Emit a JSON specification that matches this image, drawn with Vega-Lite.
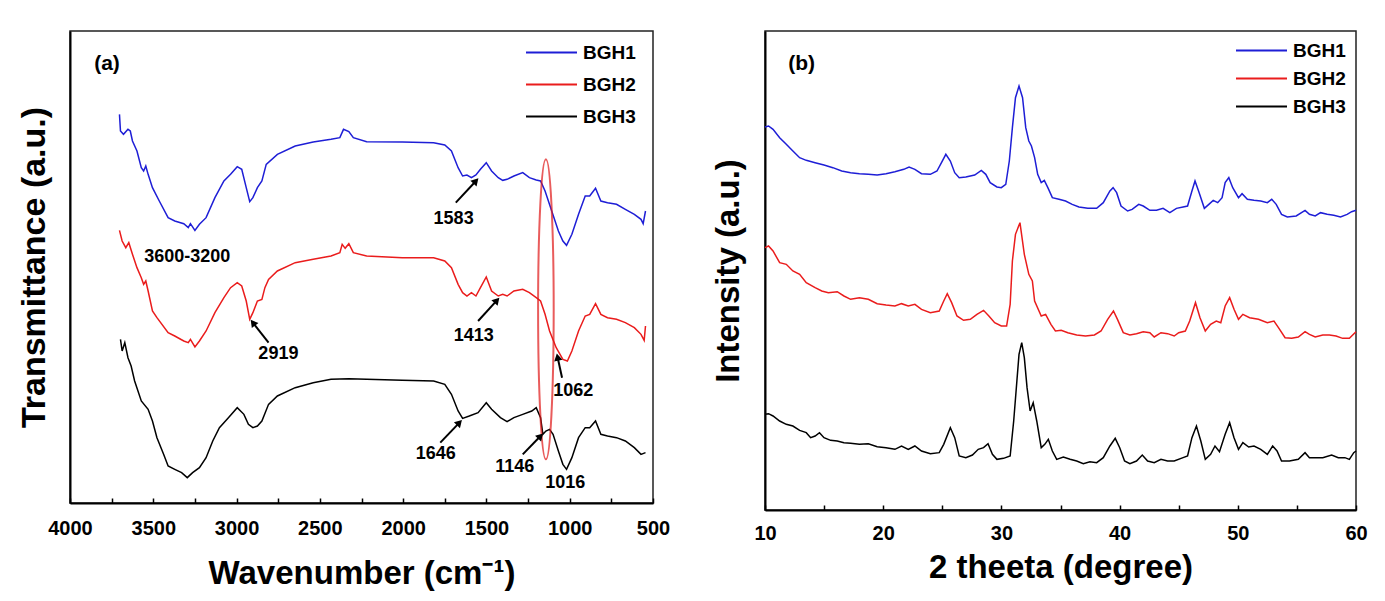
{
"$schema": "https://vega.github.io/schema/vega-lite/v6.json",
"background": "white",
"padding": {"left": 16, "top": 30, "right": 20, "bottom": 5},
"bounds": "flush",
"spacing": 112,
"config": {
  "font": "Liberation Sans",
  "view": {"stroke": "#222222", "strokeWidth": 1.5},
  "axis": {"domainColor": "black", "domainWidth": 2, "tickColor": "black", "tickWidth": 1.5, "grid": false, "labelFont": "Liberation Sans", "labelFontWeight": "bold", "labelFontSize": 20, "labelColor": "black", "titleFont": "Liberation Sans", "titleFontWeight": "bold", "titleFontSize": 33, "titleColor": "black"},
  "legend": {"labelFont": "Liberation Sans", "labelFontWeight": "bold", "labelFontSize": 19, "labelColor": "black", "symbolType": "M-3,0L3,0", "symbolSize": 289, "symbolStrokeWidth": 2, "padding": 0, "labelOffset": 22}
},
"datasets": {
"ftir": [
{"w":3703,"t":1166,"s":"BGH1"},{"w":3697,"t":1116,"s":"BGH1"},{"w":3679,"t":1106,"s":"BGH1"},{"w":3652,"t":1121,"s":"BGH1"},{"w":3638,"t":1116,"s":"BGH1"},{"w":3625,"t":1086,"s":"BGH1"},{"w":3598,"t":1056,"s":"BGH1"},{"w":3572,"t":1006,"s":"BGH1"},{"w":3558,"t":996,"s":"BGH1"},{"w":3545,"t":1011,"s":"BGH1"},{"w":3531,"t":986,"s":"BGH1"},{"w":3505,"t":946,"s":"BGH1"},{"w":3464,"t":906,"s":"BGH1"},{"w":3411,"t":856,"s":"BGH1"},{"w":3371,"t":846,"s":"BGH1"},{"w":3317,"t":838,"s":"BGH1"},{"w":3290,"t":826,"s":"BGH1"},{"w":3277,"t":838,"s":"BGH1"},{"w":3250,"t":818,"s":"BGH1"},{"w":3223,"t":836,"s":"BGH1"},{"w":3183,"t":856,"s":"BGH1"},{"w":3130,"t":916,"s":"BGH1"},{"w":3076,"t":966,"s":"BGH1"},{"w":3036,"t":986,"s":"BGH1"},{"w":2996,"t":1009,"s":"BGH1"},{"w":2969,"t":1001,"s":"BGH1"},{"w":2942,"t":946,"s":"BGH1"},{"w":2921,"t":904,"s":"BGH1"},{"w":2902,"t":916,"s":"BGH1"},{"w":2875,"t":946,"s":"BGH1"},{"w":2848,"t":966,"s":"BGH1"},{"w":2822,"t":1016,"s":"BGH1"},{"w":2755,"t":1046,"s":"BGH1"},{"w":2648,"t":1071,"s":"BGH1"},{"w":2540,"t":1083,"s":"BGH1"},{"w":2433,"t":1091,"s":"BGH1"},{"w":2380,"t":1096,"s":"BGH1"},{"w":2358,"t":1121,"s":"BGH1"},{"w":2326,"t":1114,"s":"BGH1"},{"w":2299,"t":1096,"s":"BGH1"},{"w":2219,"t":1084,"s":"BGH1"},{"w":2005,"t":1083,"s":"BGH1"},{"w":1817,"t":1081,"s":"BGH1"},{"w":1750,"t":1074,"s":"BGH1"},{"w":1710,"t":1056,"s":"BGH1"},{"w":1670,"t":1006,"s":"BGH1"},{"w":1643,"t":981,"s":"BGH1"},{"w":1617,"t":984,"s":"BGH1"},{"w":1590,"t":976,"s":"BGH1"},{"w":1563,"t":984,"s":"BGH1"},{"w":1536,"t":1001,"s":"BGH1"},{"w":1501,"t":1021,"s":"BGH1"},{"w":1469,"t":996,"s":"BGH1"},{"w":1429,"t":976,"s":"BGH1"},{"w":1402,"t":968,"s":"BGH1"},{"w":1376,"t":971,"s":"BGH1"},{"w":1335,"t":981,"s":"BGH1"},{"w":1282,"t":991,"s":"BGH1"},{"w":1242,"t":976,"s":"BGH1"},{"w":1201,"t":969,"s":"BGH1"},{"w":1175,"t":966,"s":"BGH1"},{"w":1148,"t":936,"s":"BGH1"},{"w":1108,"t":876,"s":"BGH1"},{"w":1068,"t":816,"s":"BGH1"},{"w":1041,"t":786,"s":"BGH1"},{"w":1019,"t":773,"s":"BGH1"},{"w":987,"t":806,"s":"BGH1"},{"w":947,"t":866,"s":"BGH1"},{"w":907,"t":921,"s":"BGH1"},{"w":880,"t":921,"s":"BGH1"},{"w":845,"t":944,"s":"BGH1"},{"w":813,"t":906,"s":"BGH1"},{"w":773,"t":901,"s":"BGH1"},{"w":719,"t":896,"s":"BGH1"},{"w":666,"t":881,"s":"BGH1"},{"w":612,"t":866,"s":"BGH1"},{"w":572,"t":851,"s":"BGH1"},{"w":559,"t":838,"s":"BGH1"},{"w":545,"t":876,"s":"BGH1"},
{"w":3703,"t":818,"s":"BGH2"},{"w":3687,"t":786,"s":"BGH2"},{"w":3665,"t":766,"s":"BGH2"},{"w":3647,"t":781,"s":"BGH2"},{"w":3625,"t":746,"s":"BGH2"},{"w":3598,"t":706,"s":"BGH2"},{"w":3572,"t":676,"s":"BGH2"},{"w":3558,"t":656,"s":"BGH2"},{"w":3545,"t":666,"s":"BGH2"},{"w":3531,"t":636,"s":"BGH2"},{"w":3505,"t":576,"s":"BGH2"},{"w":3478,"t":556,"s":"BGH2"},{"w":3411,"t":511,"s":"BGH2"},{"w":3371,"t":501,"s":"BGH2"},{"w":3317,"t":486,"s":"BGH2"},{"w":3290,"t":481,"s":"BGH2"},{"w":3277,"t":491,"s":"BGH2"},{"w":3250,"t":468,"s":"BGH2"},{"w":3223,"t":486,"s":"BGH2"},{"w":3183,"t":516,"s":"BGH2"},{"w":3130,"t":571,"s":"BGH2"},{"w":3076,"t":616,"s":"BGH2"},{"w":3036,"t":646,"s":"BGH2"},{"w":2996,"t":661,"s":"BGH2"},{"w":2969,"t":651,"s":"BGH2"},{"w":2942,"t":606,"s":"BGH2"},{"w":2921,"t":551,"s":"BGH2"},{"w":2902,"t":571,"s":"BGH2"},{"w":2875,"t":606,"s":"BGH2"},{"w":2848,"t":611,"s":"BGH2"},{"w":2830,"t":646,"s":"BGH2"},{"w":2808,"t":671,"s":"BGH2"},{"w":2755,"t":696,"s":"BGH2"},{"w":2648,"t":721,"s":"BGH2"},{"w":2540,"t":731,"s":"BGH2"},{"w":2433,"t":741,"s":"BGH2"},{"w":2380,"t":751,"s":"BGH2"},{"w":2366,"t":776,"s":"BGH2"},{"w":2348,"t":764,"s":"BGH2"},{"w":2326,"t":778,"s":"BGH2"},{"w":2299,"t":751,"s":"BGH2"},{"w":2219,"t":741,"s":"BGH2"},{"w":2005,"t":736,"s":"BGH2"},{"w":1817,"t":736,"s":"BGH2"},{"w":1750,"t":726,"s":"BGH2"},{"w":1710,"t":706,"s":"BGH2"},{"w":1670,"t":656,"s":"BGH2"},{"w":1643,"t":631,"s":"BGH2"},{"w":1617,"t":621,"s":"BGH2"},{"w":1590,"t":631,"s":"BGH2"},{"w":1563,"t":621,"s":"BGH2"},{"w":1536,"t":646,"s":"BGH2"},{"w":1501,"t":678,"s":"BGH2"},{"w":1469,"t":636,"s":"BGH2"},{"w":1429,"t":621,"s":"BGH2"},{"w":1402,"t":626,"s":"BGH2"},{"w":1376,"t":621,"s":"BGH2"},{"w":1335,"t":636,"s":"BGH2"},{"w":1282,"t":641,"s":"BGH2"},{"w":1242,"t":631,"s":"BGH2"},{"w":1201,"t":616,"s":"BGH2"},{"w":1175,"t":606,"s":"BGH2"},{"w":1148,"t":566,"s":"BGH2"},{"w":1121,"t":516,"s":"BGH2"},{"w":1081,"t":466,"s":"BGH2"},{"w":1041,"t":431,"s":"BGH2"},{"w":1014,"t":426,"s":"BGH2"},{"w":987,"t":456,"s":"BGH2"},{"w":947,"t":516,"s":"BGH2"},{"w":907,"t":561,"s":"BGH2"},{"w":880,"t":566,"s":"BGH2"},{"w":845,"t":598,"s":"BGH2"},{"w":813,"t":566,"s":"BGH2"},{"w":773,"t":556,"s":"BGH2"},{"w":719,"t":551,"s":"BGH2"},{"w":666,"t":541,"s":"BGH2"},{"w":612,"t":526,"s":"BGH2"},{"w":572,"t":506,"s":"BGH2"},{"w":553,"t":488,"s":"BGH2"},{"w":545,"t":531,"s":"BGH2"},
{"w":3697,"t":491,"s":"BGH3"},{"w":3687,"t":456,"s":"BGH3"},{"w":3671,"t":481,"s":"BGH3"},{"w":3652,"t":436,"s":"BGH3"},{"w":3633,"t":411,"s":"BGH3"},{"w":3612,"t":366,"s":"BGH3"},{"w":3572,"t":306,"s":"BGH3"},{"w":3531,"t":281,"s":"BGH3"},{"w":3505,"t":246,"s":"BGH3"},{"w":3478,"t":196,"s":"BGH3"},{"w":3438,"t":146,"s":"BGH3"},{"w":3411,"t":111,"s":"BGH3"},{"w":3371,"t":101,"s":"BGH3"},{"w":3330,"t":91,"s":"BGH3"},{"w":3296,"t":76,"s":"BGH3"},{"w":3264,"t":91,"s":"BGH3"},{"w":3223,"t":106,"s":"BGH3"},{"w":3183,"t":136,"s":"BGH3"},{"w":3143,"t":186,"s":"BGH3"},{"w":3103,"t":226,"s":"BGH3"},{"w":3049,"t":256,"s":"BGH3"},{"w":2996,"t":286,"s":"BGH3"},{"w":2956,"t":266,"s":"BGH3"},{"w":2929,"t":236,"s":"BGH3"},{"w":2902,"t":226,"s":"BGH3"},{"w":2875,"t":231,"s":"BGH3"},{"w":2848,"t":246,"s":"BGH3"},{"w":2808,"t":296,"s":"BGH3"},{"w":2755,"t":321,"s":"BGH3"},{"w":2648,"t":346,"s":"BGH3"},{"w":2540,"t":361,"s":"BGH3"},{"w":2433,"t":371,"s":"BGH3"},{"w":2326,"t":373,"s":"BGH3"},{"w":2219,"t":371,"s":"BGH3"},{"w":2005,"t":368,"s":"BGH3"},{"w":1817,"t":366,"s":"BGH3"},{"w":1750,"t":356,"s":"BGH3"},{"w":1710,"t":326,"s":"BGH3"},{"w":1670,"t":276,"s":"BGH3"},{"w":1643,"t":254,"s":"BGH3"},{"w":1603,"t":261,"s":"BGH3"},{"w":1550,"t":271,"s":"BGH3"},{"w":1501,"t":301,"s":"BGH3"},{"w":1469,"t":281,"s":"BGH3"},{"w":1416,"t":256,"s":"BGH3"},{"w":1376,"t":244,"s":"BGH3"},{"w":1335,"t":256,"s":"BGH3"},{"w":1282,"t":266,"s":"BGH3"},{"w":1228,"t":276,"s":"BGH3"},{"w":1201,"t":286,"s":"BGH3"},{"w":1175,"t":256,"s":"BGH3"},{"w":1161,"t":206,"s":"BGH3"},{"w":1143,"t":216,"s":"BGH3"},{"w":1121,"t":221,"s":"BGH3"},{"w":1100,"t":206,"s":"BGH3"},{"w":1068,"t":156,"s":"BGH3"},{"w":1041,"t":116,"s":"BGH3"},{"w":1019,"t":101,"s":"BGH3"},{"w":987,"t":136,"s":"BGH3"},{"w":947,"t":196,"s":"BGH3"},{"w":907,"t":226,"s":"BGH3"},{"w":880,"t":226,"s":"BGH3"},{"w":845,"t":246,"s":"BGH3"},{"w":813,"t":206,"s":"BGH3"},{"w":773,"t":201,"s":"BGH3"},{"w":719,"t":196,"s":"BGH3"},{"w":666,"t":186,"s":"BGH3"},{"w":612,"t":166,"s":"BGH3"},{"w":572,"t":146,"s":"BGH3"},{"w":545,"t":151,"s":"BGH3"}
],
"xrd": [
{"d":10.00,"i":1149,"s":"BGH1"},{"d":10.30,"i":1152,"s":"BGH1"},{"d":10.68,"i":1142,"s":"BGH1"},{"d":11.24,"i":1117,"s":"BGH1"},{"d":11.80,"i":1097,"s":"BGH1"},{"d":12.36,"i":1077,"s":"BGH1"},{"d":12.93,"i":1057,"s":"BGH1"},{"d":13.49,"i":1049,"s":"BGH1"},{"d":14.24,"i":1042,"s":"BGH1"},{"d":14.99,"i":1035,"s":"BGH1"},{"d":15.74,"i":1027,"s":"BGH1"},{"d":16.49,"i":1017,"s":"BGH1"},{"d":17.24,"i":1012,"s":"BGH1"},{"d":17.99,"i":1009,"s":"BGH1"},{"d":18.74,"i":1007,"s":"BGH1"},{"d":19.49,"i":1005,"s":"BGH1"},{"d":20.24,"i":1009,"s":"BGH1"},{"d":20.99,"i":1015,"s":"BGH1"},{"d":21.74,"i":1022,"s":"BGH1"},{"d":22.19,"i":1029,"s":"BGH1"},{"d":22.68,"i":1022,"s":"BGH1"},{"d":23.24,"i":1009,"s":"BGH1"},{"d":23.99,"i":1007,"s":"BGH1"},{"d":24.55,"i":1017,"s":"BGH1"},{"d":24.93,"i":1042,"s":"BGH1"},{"d":25.30,"i":1067,"s":"BGH1"},{"d":25.68,"i":1047,"s":"BGH1"},{"d":26.05,"i":1012,"s":"BGH1"},{"d":26.43,"i":997,"s":"BGH1"},{"d":26.99,"i":999,"s":"BGH1"},{"d":27.74,"i":1005,"s":"BGH1"},{"d":28.30,"i":1019,"s":"BGH1"},{"d":28.68,"i":1007,"s":"BGH1"},{"d":29.05,"i":982,"s":"BGH1"},{"d":29.62,"i":969,"s":"BGH1"},{"d":29.99,"i":967,"s":"BGH1"},{"d":30.37,"i":977,"s":"BGH1"},{"d":30.67,"i":1047,"s":"BGH1"},{"d":30.93,"i":1147,"s":"BGH1"},{"d":31.19,"i":1237,"s":"BGH1"},{"d":31.49,"i":1272,"s":"BGH1"},{"d":31.79,"i":1237,"s":"BGH1"},{"d":32.06,"i":1147,"s":"BGH1"},{"d":32.32,"i":1107,"s":"BGH1"},{"d":32.54,"i":1092,"s":"BGH1"},{"d":32.81,"i":1057,"s":"BGH1"},{"d":33.07,"i":1007,"s":"BGH1"},{"d":33.37,"i":982,"s":"BGH1"},{"d":33.63,"i":989,"s":"BGH1"},{"d":33.93,"i":967,"s":"BGH1"},{"d":34.31,"i":937,"s":"BGH1"},{"d":34.87,"i":932,"s":"BGH1"},{"d":35.43,"i":927,"s":"BGH1"},{"d":35.99,"i":917,"s":"BGH1"},{"d":36.56,"i":909,"s":"BGH1"},{"d":37.31,"i":905,"s":"BGH1"},{"d":38.06,"i":905,"s":"BGH1"},{"d":38.62,"i":922,"s":"BGH1"},{"d":39.18,"i":957,"s":"BGH1"},{"d":39.45,"i":967,"s":"BGH1"},{"d":39.75,"i":952,"s":"BGH1"},{"d":40.12,"i":912,"s":"BGH1"},{"d":40.68,"i":897,"s":"BGH1"},{"d":41.06,"i":902,"s":"BGH1"},{"d":41.62,"i":917,"s":"BGH1"},{"d":42.00,"i":912,"s":"BGH1"},{"d":42.56,"i":899,"s":"BGH1"},{"d":43.12,"i":899,"s":"BGH1"},{"d":43.68,"i":905,"s":"BGH1"},{"d":44.25,"i":892,"s":"BGH1"},{"d":44.81,"i":905,"s":"BGH1"},{"d":45.37,"i":909,"s":"BGH1"},{"d":45.75,"i":912,"s":"BGH1"},{"d":46.12,"i":957,"s":"BGH1"},{"d":46.38,"i":987,"s":"BGH1"},{"d":46.68,"i":957,"s":"BGH1"},{"d":47.17,"i":905,"s":"BGH1"},{"d":47.55,"i":917,"s":"BGH1"},{"d":47.92,"i":929,"s":"BGH1"},{"d":48.30,"i":922,"s":"BGH1"},{"d":48.67,"i":937,"s":"BGH1"},{"d":48.93,"i":982,"s":"BGH1"},{"d":49.24,"i":997,"s":"BGH1"},{"d":49.57,"i":967,"s":"BGH1"},{"d":50.06,"i":937,"s":"BGH1"},{"d":50.36,"i":949,"s":"BGH1"},{"d":50.81,"i":932,"s":"BGH1"},{"d":51.37,"i":929,"s":"BGH1"},{"d":51.94,"i":927,"s":"BGH1"},{"d":52.50,"i":922,"s":"BGH1"},{"d":52.87,"i":932,"s":"BGH1"},{"d":53.25,"i":917,"s":"BGH1"},{"d":53.70,"i":887,"s":"BGH1"},{"d":54.19,"i":879,"s":"BGH1"},{"d":54.94,"i":882,"s":"BGH1"},{"d":55.69,"i":899,"s":"BGH1"},{"d":56.06,"i":887,"s":"BGH1"},{"d":56.55,"i":882,"s":"BGH1"},{"d":57.00,"i":892,"s":"BGH1"},{"d":57.56,"i":887,"s":"BGH1"},{"d":58.12,"i":884,"s":"BGH1"},{"d":58.69,"i":879,"s":"BGH1"},{"d":59.25,"i":887,"s":"BGH1"},{"d":59.63,"i":895,"s":"BGH1"},{"d":60.00,"i":899,"s":"BGH1"},
{"d":10.00,"i":787,"s":"BGH2"},{"d":10.30,"i":792,"s":"BGH2"},{"d":10.68,"i":777,"s":"BGH2"},{"d":11.24,"i":742,"s":"BGH2"},{"d":11.80,"i":737,"s":"BGH2"},{"d":12.36,"i":717,"s":"BGH2"},{"d":12.93,"i":707,"s":"BGH2"},{"d":13.49,"i":682,"s":"BGH2"},{"d":14.24,"i":667,"s":"BGH2"},{"d":14.80,"i":657,"s":"BGH2"},{"d":15.36,"i":652,"s":"BGH2"},{"d":16.11,"i":655,"s":"BGH2"},{"d":16.68,"i":642,"s":"BGH2"},{"d":17.24,"i":632,"s":"BGH2"},{"d":17.99,"i":637,"s":"BGH2"},{"d":18.74,"i":632,"s":"BGH2"},{"d":19.49,"i":619,"s":"BGH2"},{"d":20.24,"i":615,"s":"BGH2"},{"d":20.99,"i":612,"s":"BGH2"},{"d":21.55,"i":619,"s":"BGH2"},{"d":22.12,"i":612,"s":"BGH2"},{"d":22.68,"i":617,"s":"BGH2"},{"d":23.24,"i":602,"s":"BGH2"},{"d":23.99,"i":592,"s":"BGH2"},{"d":24.74,"i":597,"s":"BGH2"},{"d":25.12,"i":627,"s":"BGH2"},{"d":25.42,"i":649,"s":"BGH2"},{"d":25.79,"i":622,"s":"BGH2"},{"d":26.24,"i":582,"s":"BGH2"},{"d":26.80,"i":569,"s":"BGH2"},{"d":27.37,"i":572,"s":"BGH2"},{"d":27.93,"i":587,"s":"BGH2"},{"d":28.49,"i":599,"s":"BGH2"},{"d":28.94,"i":582,"s":"BGH2"},{"d":29.43,"i":562,"s":"BGH2"},{"d":29.99,"i":552,"s":"BGH2"},{"d":30.44,"i":552,"s":"BGH2"},{"d":30.74,"i":617,"s":"BGH2"},{"d":30.93,"i":747,"s":"BGH2"},{"d":31.19,"i":827,"s":"BGH2"},{"d":31.57,"i":862,"s":"BGH2"},{"d":31.94,"i":767,"s":"BGH2"},{"d":32.32,"i":707,"s":"BGH2"},{"d":32.62,"i":687,"s":"BGH2"},{"d":32.81,"i":627,"s":"BGH2"},{"d":33.37,"i":582,"s":"BGH2"},{"d":33.74,"i":587,"s":"BGH2"},{"d":34.19,"i":557,"s":"BGH2"},{"d":34.57,"i":537,"s":"BGH2"},{"d":35.06,"i":539,"s":"BGH2"},{"d":35.62,"i":532,"s":"BGH2"},{"d":36.37,"i":525,"s":"BGH2"},{"d":37.12,"i":522,"s":"BGH2"},{"d":37.87,"i":525,"s":"BGH2"},{"d":38.43,"i":537,"s":"BGH2"},{"d":38.99,"i":572,"s":"BGH2"},{"d":39.48,"i":597,"s":"BGH2"},{"d":39.82,"i":572,"s":"BGH2"},{"d":40.31,"i":532,"s":"BGH2"},{"d":40.87,"i":525,"s":"BGH2"},{"d":41.43,"i":529,"s":"BGH2"},{"d":42.00,"i":535,"s":"BGH2"},{"d":42.56,"i":532,"s":"BGH2"},{"d":42.93,"i":519,"s":"BGH2"},{"d":43.50,"i":532,"s":"BGH2"},{"d":44.06,"i":529,"s":"BGH2"},{"d":44.62,"i":522,"s":"BGH2"},{"d":45.00,"i":532,"s":"BGH2"},{"d":45.56,"i":537,"s":"BGH2"},{"d":45.93,"i":567,"s":"BGH2"},{"d":46.42,"i":622,"s":"BGH2"},{"d":46.80,"i":577,"s":"BGH2"},{"d":47.25,"i":537,"s":"BGH2"},{"d":47.70,"i":557,"s":"BGH2"},{"d":48.18,"i":567,"s":"BGH2"},{"d":48.56,"i":562,"s":"BGH2"},{"d":48.93,"i":612,"s":"BGH2"},{"d":49.31,"i":637,"s":"BGH2"},{"d":49.68,"i":602,"s":"BGH2"},{"d":50.06,"i":572,"s":"BGH2"},{"d":50.43,"i":587,"s":"BGH2"},{"d":51.00,"i":577,"s":"BGH2"},{"d":51.75,"i":572,"s":"BGH2"},{"d":52.50,"i":562,"s":"BGH2"},{"d":53.06,"i":567,"s":"BGH2"},{"d":53.44,"i":547,"s":"BGH2"},{"d":54.00,"i":517,"s":"BGH2"},{"d":54.56,"i":515,"s":"BGH2"},{"d":55.12,"i":519,"s":"BGH2"},{"d":55.69,"i":535,"s":"BGH2"},{"d":56.06,"i":527,"s":"BGH2"},{"d":56.55,"i":519,"s":"BGH2"},{"d":57.19,"i":525,"s":"BGH2"},{"d":57.75,"i":525,"s":"BGH2"},{"d":58.31,"i":522,"s":"BGH2"},{"d":58.87,"i":515,"s":"BGH2"},{"d":59.44,"i":515,"s":"BGH2"},{"d":60.00,"i":535,"s":"BGH2"},
{"d":10.00,"i":287,"s":"BGH3"},{"d":10.30,"i":289,"s":"BGH3"},{"d":10.68,"i":282,"s":"BGH3"},{"d":11.24,"i":267,"s":"BGH3"},{"d":11.80,"i":257,"s":"BGH3"},{"d":12.36,"i":252,"s":"BGH3"},{"d":12.93,"i":239,"s":"BGH3"},{"d":13.49,"i":232,"s":"BGH3"},{"d":13.86,"i":217,"s":"BGH3"},{"d":14.24,"i":222,"s":"BGH3"},{"d":14.61,"i":232,"s":"BGH3"},{"d":14.99,"i":217,"s":"BGH3"},{"d":15.55,"i":209,"s":"BGH3"},{"d":16.11,"i":207,"s":"BGH3"},{"d":16.68,"i":202,"s":"BGH3"},{"d":17.24,"i":200,"s":"BGH3"},{"d":17.99,"i":197,"s":"BGH3"},{"d":18.74,"i":199,"s":"BGH3"},{"d":19.49,"i":190,"s":"BGH3"},{"d":20.24,"i":187,"s":"BGH3"},{"d":20.99,"i":182,"s":"BGH3"},{"d":21.55,"i":192,"s":"BGH3"},{"d":22.12,"i":182,"s":"BGH3"},{"d":22.68,"i":192,"s":"BGH3"},{"d":23.24,"i":177,"s":"BGH3"},{"d":23.99,"i":169,"s":"BGH3"},{"d":24.74,"i":172,"s":"BGH3"},{"d":25.12,"i":197,"s":"BGH3"},{"d":25.68,"i":247,"s":"BGH3"},{"d":26.05,"i":217,"s":"BGH3"},{"d":26.43,"i":162,"s":"BGH3"},{"d":26.99,"i":157,"s":"BGH3"},{"d":27.55,"i":165,"s":"BGH3"},{"d":28.04,"i":182,"s":"BGH3"},{"d":28.49,"i":187,"s":"BGH3"},{"d":28.87,"i":199,"s":"BGH3"},{"d":29.24,"i":167,"s":"BGH3"},{"d":29.62,"i":152,"s":"BGH3"},{"d":30.18,"i":155,"s":"BGH3"},{"d":30.74,"i":162,"s":"BGH3"},{"d":31.04,"i":267,"s":"BGH3"},{"d":31.31,"i":387,"s":"BGH3"},{"d":31.49,"i":467,"s":"BGH3"},{"d":31.72,"i":502,"s":"BGH3"},{"d":31.94,"i":457,"s":"BGH3"},{"d":32.17,"i":367,"s":"BGH3"},{"d":32.43,"i":297,"s":"BGH3"},{"d":32.69,"i":322,"s":"BGH3"},{"d":32.99,"i":267,"s":"BGH3"},{"d":33.37,"i":187,"s":"BGH3"},{"d":33.67,"i":197,"s":"BGH3"},{"d":33.97,"i":212,"s":"BGH3"},{"d":34.31,"i":177,"s":"BGH3"},{"d":34.68,"i":152,"s":"BGH3"},{"d":35.24,"i":159,"s":"BGH3"},{"d":35.81,"i":152,"s":"BGH3"},{"d":36.37,"i":147,"s":"BGH3"},{"d":36.93,"i":139,"s":"BGH3"},{"d":37.49,"i":145,"s":"BGH3"},{"d":38.06,"i":142,"s":"BGH3"},{"d":38.62,"i":157,"s":"BGH3"},{"d":39.18,"i":192,"s":"BGH3"},{"d":39.63,"i":215,"s":"BGH3"},{"d":40.01,"i":187,"s":"BGH3"},{"d":40.42,"i":147,"s":"BGH3"},{"d":40.87,"i":139,"s":"BGH3"},{"d":41.43,"i":147,"s":"BGH3"},{"d":41.92,"i":165,"s":"BGH3"},{"d":42.37,"i":147,"s":"BGH3"},{"d":42.93,"i":142,"s":"BGH3"},{"d":43.50,"i":152,"s":"BGH3"},{"d":44.06,"i":147,"s":"BGH3"},{"d":44.62,"i":147,"s":"BGH3"},{"d":45.37,"i":157,"s":"BGH3"},{"d":45.75,"i":162,"s":"BGH3"},{"d":46.12,"i":217,"s":"BGH3"},{"d":46.50,"i":252,"s":"BGH3"},{"d":46.87,"i":207,"s":"BGH3"},{"d":47.25,"i":152,"s":"BGH3"},{"d":47.70,"i":167,"s":"BGH3"},{"d":48.07,"i":192,"s":"BGH3"},{"d":48.45,"i":175,"s":"BGH3"},{"d":48.93,"i":227,"s":"BGH3"},{"d":49.31,"i":262,"s":"BGH3"},{"d":49.68,"i":217,"s":"BGH3"},{"d":50.06,"i":182,"s":"BGH3"},{"d":50.43,"i":202,"s":"BGH3"},{"d":50.92,"i":189,"s":"BGH3"},{"d":51.37,"i":192,"s":"BGH3"},{"d":51.94,"i":182,"s":"BGH3"},{"d":52.50,"i":167,"s":"BGH3"},{"d":52.95,"i":192,"s":"BGH3"},{"d":53.32,"i":177,"s":"BGH3"},{"d":53.70,"i":147,"s":"BGH3"},{"d":54.37,"i":147,"s":"BGH3"},{"d":55.12,"i":152,"s":"BGH3"},{"d":55.69,"i":172,"s":"BGH3"},{"d":56.06,"i":157,"s":"BGH3"},{"d":56.62,"i":157,"s":"BGH3"},{"d":57.19,"i":157,"s":"BGH3"},{"d":57.94,"i":165,"s":"BGH3"},{"d":58.50,"i":157,"s":"BGH3"},{"d":59.06,"i":157,"s":"BGH3"},{"d":59.44,"i":152,"s":"BGH3"},{"d":59.81,"i":172,"s":"BGH3"},{"d":60.00,"i":177,"s":"BGH3"}
],
"ann": [
{"w":1697,"t":851,"label":"1583"},{"w":3296,"t":738,"label":"3600-3200"},{"w":2749,"t":446,"label":"2919"},{"w":1576,"t":501,"label":"1413"},{"w":979,"t":336,"label":"1062"},{"w":1804,"t":146,"label":"1646"},{"w":1330,"t":108,"label":"1146"},{"w":1027,"t":61,"label":"1016"}
],
"arrows": [
{"w1":1684,"t1":901,"w2":1563,"t2":966,"ang":43},{"w1":2808,"t1":481,"w2":2902,"t2":541,"ang":-38},{"w1":1550,"t1":546,"w2":1437,"t2":608,"ang":42},{"w1":1046,"t1":376,"w2":1073,"t2":438,"ang":-12},{"w1":1777,"t1":181,"w2":1662,"t2":241,"ang":44},{"w1":1282,"t1":146,"w2":1175,"t2":201,"ang":44}
]
},
"resolve": {"scale": {"color": "independent"}, "legend": {"color": "independent"}},
"hconcat": [
{
 "width": 583, "height": 472,
 "layer": [
  {"data": {"name": "ftir"}, "mark": {"type": "line", "strokeWidth": 1.5},
   "encoding": {
    "x": {"field": "w", "type": "quantitative", "scale": {"domain": [4000, 500], "nice": false, "zero": false},
          "axis": {"values": [4000,3750,3500,3250,3000,2750,2500,2250,2000,1750,1500,1250,1000,750,500], "format": "d", "labelExpr": "datum.value % 500 === 0 ? datum.label : ''", "tickSize": -5, "labelPadding": 20, "labelFlush": false, "title": "Wavenumber (cm⁻¹)", "titlePadding": 19}},
    "y": {"field": "t", "type": "quantitative", "scale": {"domain": [0, 1416], "nice": false}, "axis": {"labels": false, "ticks": false, "title": "Transmittance (a.u.)", "titleFontSize": 34, "titlePadding": 19}},
    "color": {"field": "s", "type": "nominal", "scale": {"domain": ["BGH1", "BGH2", "BGH3"], "range": ["#1e1ed6", "#ea1c1c", "#000000"]},
              "legend": {"orient": "none", "legendX": 472, "legendY": 12, "title": null, "rowPadding": 12}}
   }},
  {"data": {"values": [{"w": 1143, "t": 581}]},
   "mark": {"type": "point", "shape": "M0,-1A0.052,1,0,1,1,0,1A0.052,1,0,1,1,0,-1Z", "size": 90000, "filled": false, "stroke": "#e01818", "strokeWidth": 2, "strokeOpacity": 1},
   "encoding": {"x": {"field": "w", "type": "quantitative"}, "y": {"field": "t", "type": "quantitative"}}},
  {"data": {"name": "arrows"}, "mark": {"type": "rule", "color": "black", "strokeWidth": 2},
   "encoding": {"x": {"field": "w1", "type": "quantitative"}, "y": {"field": "t1", "type": "quantitative"}, "x2": {"field": "w2"}, "y2": {"field": "t2"}}},
  {"data": {"name": "arrows"}, "mark": {"type": "point", "shape": "triangle-up", "filled": true, "color": "black", "opacity": 1, "size": 70},
   "encoding": {"x": {"field": "w2", "type": "quantitative"}, "y": {"field": "t2", "type": "quantitative"}, "angle": {"field": "ang", "type": "quantitative", "scale": null}}},
  {"data": {"name": "ann"}, "mark": {"type": "text", "fontWeight": "bold", "fontSize": 18, "font": "Liberation Sans", "color": "black"},
   "encoding": {"x": {"field": "w", "type": "quantitative"}, "y": {"field": "t", "type": "quantitative"}, "text": {"field": "label"}}},
  {"data": {"values": [{"w": 3778, "t": 1316, "label": "(a)"}]}, "mark": {"type": "text", "fontWeight": "bold", "fontSize": 21, "font": "Liberation Sans", "color": "black"},
   "encoding": {"x": {"field": "w", "type": "quantitative"}, "y": {"field": "t", "type": "quantitative"}, "text": {"field": "label"}}}
 ]
},
{
 "width": 591, "height": 479,
 "layer": [
  {"data": {"name": "xrd"}, "mark": {"type": "line", "strokeWidth": 1.5},
   "encoding": {
    "x": {"field": "d", "type": "quantitative", "scale": {"domain": [10, 60], "nice": false, "zero": false},
          "axis": {"values": [10,15,20,25,30,35,40,45,50,55,60], "labelExpr": "datum.value % 10 === 0 ? datum.label : ''", "tickSize": -5, "labelPadding": 18, "labelFlush": false, "title": "2 theeta (degree)", "titlePadding": 8}},
    "y": {"field": "i", "type": "quantitative", "scale": {"domain": [0, 1437], "nice": false}, "axis": {"labels": false, "ticks": false, "title": "Intensity (a.u.)", "titlePadding": 20}},
    "color": {"field": "s", "type": "nominal", "scale": {"domain": ["BGH1", "BGH2", "BGH3"], "range": ["#1e1ed6", "#ea1c1c", "#000000"]},
              "legend": {"orient": "none", "legendX": 487, "legendY": 10, "title": null, "rowPadding": 8}}
   }},
  {"data": {"values": [{"d": 13.1, "i": 1337, "label": "(b)"}]}, "mark": {"type": "text", "fontWeight": "bold", "fontSize": 21, "font": "Liberation Sans", "color": "black"},
   "encoding": {"x": {"field": "d", "type": "quantitative"}, "y": {"field": "i", "type": "quantitative"}, "text": {"field": "label"}}}
 ]
}
]
}
